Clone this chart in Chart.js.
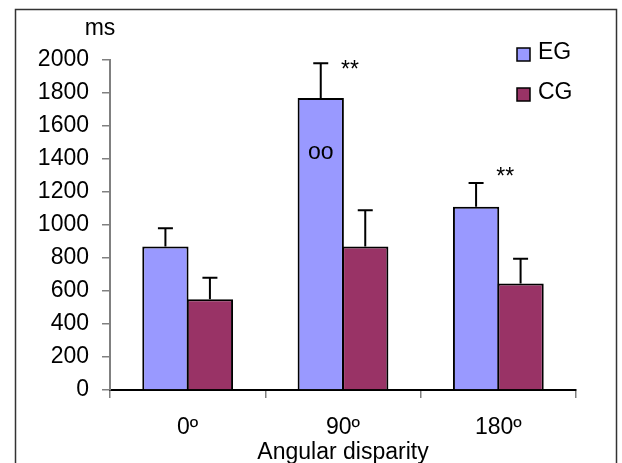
<!DOCTYPE html>
<html>
<head>
<meta charset="utf-8">
<script src="https://cdn.jsdelivr.net/npm/chart.js@4.4.0/dist/chart.umd.min.js"></script>
<style>
  html, body { margin: 0; padding: 0; background: #fff; }
  canvas { display: block; }
</style>
</head>
<body>
<canvas id="chart" width="622" height="463"></canvas>
<script>
// Data
const categories = ['0º', '90º', '180º'];
const egValues = [870, 1770, 1110];
const egErrors = [110, 210, 145];
const cgValues = [550, 870, 645];
const cgErrors = [130, 220, 150];
const yTicks = [0, 200, 400, 600, 800, 1000, 1200, 1400, 1600, 1800, 2000];

// Significance marks (text + level in ms)
const starLabels = ['', '**', '**'];
const starLevels = [null, 1935, 1285];
const innerLabels = ['', 'oo', ''];
const innerLevels = [null, 1440, null];

const FONT = '"Liberation Sans", Arial, sans-serif';
const SIZE = 23;
const errors = [egErrors, cgErrors];

// Error bars, marks, legend, frame
const extras = {
    id: 'extras',
    beforeDraw(chart) {
        const c = chart.ctx;
        c.save();
        c.fillStyle = '#fff';
        c.fillRect(0, 0, chart.width, chart.height);
        c.strokeStyle = '#333';
        c.lineWidth = 1.5;
        c.strokeRect(15.5, 9.5, 601, 470);
        c.restore();
    },
    afterDatasetsDraw(chart) {
        const c = chart.ctx;
        const y = chart.scales.y;
        c.save();
        c.strokeStyle = '#000';
        c.lineWidth = 2;
        chart.data.datasets.forEach((ds, i) => {
            chart.getDatasetMeta(i).data.forEach((bar, j) => {
                const top = y.getPixelForValue(ds.data[j] + errors[i][j]);
                c.beginPath();
                c.moveTo(bar.x, bar.y);
                c.lineTo(bar.x, top);
                c.moveTo(bar.x - 7.5, top);
                c.lineTo(bar.x + 7.5, top);
                c.stroke();
            });
        });

        c.fillStyle = '#000';
        c.textAlign = 'center';
        c.textBaseline = 'middle';
        c.font = SIZE + 'px ' + FONT;
        const eg = chart.getDatasetMeta(0).data;
        eg.forEach((bar, j) => {
            if (starLabels[j]) {
                c.fillText(starLabels[j], bar.x + bar.width / 2 + 6, y.getPixelForValue(starLevels[j]));
            }
            if (innerLabels[j]) {
                c.fillText(innerLabels[j], bar.x, y.getPixelForValue(innerLevels[j]));
            }
        });

        // axis unit
        c.fillText('ms', 100, 29);

        // legend
        c.textAlign = 'left';
        chart.data.datasets.forEach((ds, i) => {
            const by = 48 + i * 40;
            c.fillStyle = ds.backgroundColor;
            c.fillRect(517, by, 13, 13);
            c.lineWidth = 1.5;
            c.strokeRect(517, by, 13, 13);
            c.fillStyle = '#000';
            c.fillText(ds.label, 538, by + 5);
        });
        c.restore();
    }
};

new Chart(document.getElementById('chart'), {
    type: 'bar',
    data: {
        labels: categories,
        datasets: [
            {
                label: 'EG',
                data: egValues,
                backgroundColor: '#9999FF',
                borderColor: '#000',
                borderWidth: 2
            },
            {
                label: 'CG',
                data: cgValues,
                backgroundColor: '#993366',
                borderColor: '#000',
                borderWidth: 2
            }
        ]
    },
    options: {
        responsive: false,
        animation: false,
        devicePixelRatio: 1,
        categoryPercentage: 0.573,
        barPercentage: 1.04,
        layout: { padding: { top: 60, right: 46, left: 0, bottom: 0 } },
        plugins: {
            legend: { display: false },
            tooltip: { enabled: false }
        },
        scales: {
            x: {
                afterFit: s => { s.height = 73; },
                grid: { drawOnChartArea: false, drawTicks: true, tickLength: 8, color: '#808080', lineWidth: 1.5 },
                border: { color: '#000', width: 2 },
                ticks: { color: '#000', font: { family: FONT, size: SIZE }, padding: 16 },
                title: {
                    display: true,
                    text: 'Angular disparity',
                    color: '#000',
                    font: { family: FONT, size: SIZE },
                    padding: { top: 0, bottom: -3 }
                }
            },
            y: {
                min: 0,
                max: 2000,
                afterFit: s => { s.width = 110; },
                afterBuildTicks: s => { s.ticks = yTicks.map(v => ({ value: v })); },
                grid: { drawOnChartArea: false, drawTicks: true, tickLength: 8, color: '#808080', lineWidth: 1.5 },
                border: { color: '#808080', width: 2 },
                ticks: {
                    color: '#000',
                    font: { family: FONT, size: SIZE },
                    padding: 13,
                    callback: v => String(v)
                }
            }
        }
    },
    plugins: [extras]
});
</script>
</body>
</html>
